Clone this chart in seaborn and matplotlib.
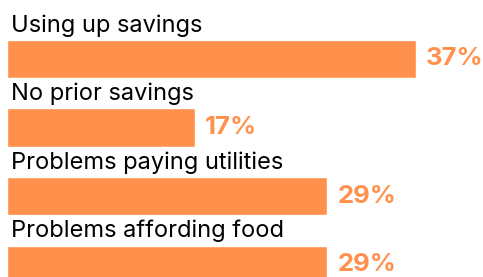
import pandas as pd
import matplotlib.pyplot as plt
import seaborn as sns

categories = ["Using up savings", "No prior savings", "Problems paying utilities", "Problems affording food"]
values = [37, 17, 29, 29]
value_labels = ["37%", "17%", "29%", "29%"]

orange = "#FF914D"

sns.set_style("white")
plt.rcParams['font.family'] = ['Inter', 'DejaVu Sans']

df = pd.DataFrame({"Category": categories, "Percent": values})

fig = plt.figure(figsize=(4.83, 2.77), dpi=100)
ax = fig.add_axes([0, 0, 1, 1])
sns.barplot(data=df, x="Percent", y="Category", color=orange, saturation=1,
            width=0.555, ax=ax)

ax.set_xlim(-0.633, 43.08)
ax.set_ylim(3.182, -0.861)
ax.set_axis_off()

for i, (cat, lab, v) in enumerate(zip(categories, value_labels, values)):
    ax.text(0.35, i - 0.40, cat, ha="left", va="baseline", fontsize=17, color="black")
    ax.annotate(lab, xy=(v, i), xytext=(7, 0), textcoords="offset points",
                ha="left", va="center", fontsize=18.5, fontweight="bold", color=orange)

fig.savefig("out.png", dpi=100)
